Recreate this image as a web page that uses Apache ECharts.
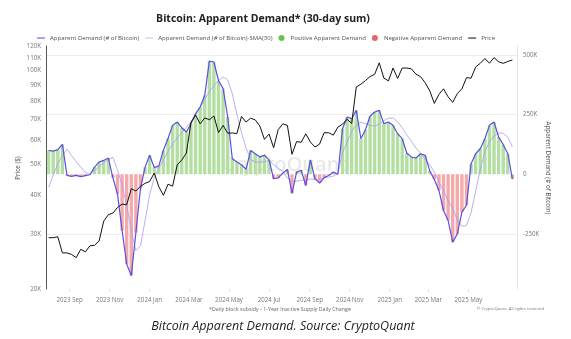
<!DOCTYPE html>
<html><head><meta charset="utf-8">
<script src="https://cdn.jsdelivr.net/npm/echarts@6/dist/echarts.min.js"></script>
<style>html,body{margin:0;padding:0;background:#fff}#c{width:571px;height:339px}</style>
</head><body><div id="c"></div>
<script>
// weekly samples starting on this date (UTC)
const startDate = [2023, 6, 31];
// BTC price, thousand USD
const priceK = [29.2,29.2,29.4,26.1,26.1,25.8,25.2,26.8,26.3,27.5,27.6,28.5,33.0,34.6,35.0,36.5,37.4,37.2,41.9,41.2,42.6,43.6,
  44.2,47.0,42.5,39.9,43.3,42.7,49.9,51.8,54.5,68.3,72.1,67.6,70.6,69.7,71.6,63.4,66.8,63.1,63.2,62.9,71.4,68.5,70.5,69.6,66.5,60.3,
  62.7,56.7,64.8,67.6,66.8,54.0,59.3,59.0,62.8,59.1,57.0,58.2,63.3,63.3,62.2,66.0,67.4,69.9,67.8,88.7,90.5,93.0,95.8,97.4,106.0,94.7,92.8,
  102.0,94.5,102.0,102.0,101.4,97.5,95.7,91.5,86.2,78.6,84.0,87.5,82.5,79.2,84.5,87.5,95.0,94.7,102.8,105.6,109.4,105.7,110.2,106.8,105.6,107.1,108.2];
// Apparent demand (30-day sum), thousand BTC
const demandK = [100,97,103,125,-5,-9,-5,-10,-6,-2,30,51,58,68,-15,-82,-236,-376,-425,-245,-60,30,80,28,35,101,150,205,219,195,177,212,
  254,282,331,475,470,392,359,240,65,51,40,21,100,86,72,80,60,-19,-15,5,20,-80,9,17,-47,60,-19,-37,-14,-5,9,0,191,240,233,268,149,187,
  243,261,268,212,219,205,170,149,89,72,68,86,79,14,-22,-68,-152,-194,-285,-250,-159,-130,44,86,107,149,205,219,156,124,86,-20];
// SMA(30) of apparent demand, thousand BTC
const smaK = [-54,-5,44,78,105,78,53,30,7,0,15,32,47,63,70,18,-45,-130,-236,-320,-300,-195,-85,-15,25,62,95,128,152,175,197,220,248,
  280,314,346,372,393,408,395,338,250,175,110,62,52,50,52,58,40,25,12,-15,-30,-30,-25,-25,-20,-22,-20,-15,-12,-8,5,90,135,180,205,218,
  212,205,202,210,225,235,236,220,195,165,138,110,88,62,40,10,-30,-70,-110,-145,-190,-218,-215,-160,-70,20,95,135,160,173,172,155,115];
const xTickDates = [[2023,8],[2023,10],[2024,0],[2024,2],[2024,4],[2024,6],[2024,8],[2024,10],[2025,0],[2025,2],[2025,4]];
const priceTicks = [20000,30000,40000,50000,60000,70000,80000,90000,100000,110000,120000];
const MONTHS = ['Jan','Feb','Mar','Apr','May','Jun','Jul','Aug','Sep','Oct','Nov','Dec'];

const DAY = 86400000;
const t0 = Date.UTC(startDate[0], startDate[1], startDate[2]);
const dates = priceK.map((_, i) => t0 + i * 7 * DAY);
const xMin = Date.UTC(2023, 6, 27), xMax = Date.UTC(2025, 6, 14);
const xTicks = xTickDates.map(d => Date.UTC(d[0], d[1], 1));
const FONT = 'Open Sans';
const LINE_ICON = 'path://M0,0M0,2.4h10v1.3h-10zM10,6';
const THIN_ICON = 'path://M0,0M0,2.6h10v0.8h-10zM10,6';

const chart = echarts.init(document.getElementById('c'));
chart.setOption({
  animation: false,
  backgroundColor: '#fff',
  title: {
    text: 'Bitcoin: Apparent Demand* (30-day sum)',
    left: 258, top: 9, textAlign: 'center',
    textStyle: {fontFamily: FONT, fontSize: 10.5, fontWeight: 'bold', color: '#222'}
  },
  legend: {
    left: 32, top: 30, itemWidth: 8, itemHeight: 6, itemGap: 6,
    textStyle: {fontFamily: FONT, fontSize: 6.05, color: '#505050'},
    data: [
      {name: 'Apparent Demand (# of Bitcoin)', icon: LINE_ICON},
      {name: 'Apparent Demand (# of Bitcoin)-SMA(30)', icon: THIN_ICON},
      {name: 'Positive Apparent Demand', icon: 'circle', itemStyle: {color: '#6cc24f'}},
      {name: 'Negative Apparent Demand', icon: 'circle', itemStyle: {color: '#e8646b'}},
      {name: 'Price', icon: LINE_ICON}
    ]
  },
  grid: [
    {left: 46, right: 54, top: 46, bottom: 50},
    {left: 46, right: 54, top: 55, bottom: 45.5}
  ],
  xAxis: [
    {type: 'value', gridIndex: 0, min: xMin, max: xMax,
     axisLine: {show: false}, splitLine: {show: false},
     axisTick: {show: true, customValues: xTicks, length: 3, lineStyle: {color: '#e0e0e0'}},
     axisLabel: {customValues: xTicks, fontFamily: FONT, fontSize: 6.2, color: '#777', margin: 8,
       formatter: v => { const d = new Date(v); return d.getUTCFullYear() + ' ' + MONTHS[d.getUTCMonth()]; }}},
    {type: 'value', gridIndex: 1, min: xMin, max: xMax, show: false}
  ],
  yAxis: [
    {type: 'log', gridIndex: 0, logBase: 10, min: 20000, max: 120000, position: 'left',
     axisLine: {show: true, lineStyle: {color: '#555', width: 1}},
     axisTick: {show: false}, splitLine: {show: false},
     axisLabel: {customValues: priceTicks, fontFamily: FONT, fontSize: 6.2, color: '#777', margin: 5,
       formatter: v => Math.round(v / 1000) + 'K'}},
    {type: 'value', gridIndex: 1, position: 'right', min: -500000, max: 500000, interval: 250000,
     axisLine: {show: false}, axisTick: {show: false},
     splitLine: {show: true, lineStyle: {color: ['rgba(0,0,0,0)', '#ececec', 'rgba(0,0,0,0)', '#ececec', '#ececec'], width: 1}},
     axisLabel: {fontFamily: FONT, fontSize: 6.2, color: '#777', margin: 6,
       formatter: v => v === -500000 ? '' : (v === 0 ? '0' : (v / 1000) + 'K')}},
    {type: 'value', gridIndex: 0, position: 'right', min: 0, max: 1,
     axisLine: {show: true, lineStyle: {color: '#e4e4e4'}}, axisTick: {show: false},
     axisLabel: {show: false}, splitLine: {show: false}}
  ],
  series: [
    {name: 'Positive Apparent Demand', type: 'bar', xAxisIndex: 1, yAxisIndex: 1, barWidth: 3.4, barGap: '-100%',
     itemStyle: {color: '#b3dfa2'}, z: 1,
     data: dates.map((d, i) => [d, demandK[i] > 0 ? demandK[i] * 1000 : null])},
    {name: 'Negative Apparent Demand', type: 'bar', xAxisIndex: 1, yAxisIndex: 1, barWidth: 3.4, barGap: '-100%',
     itemStyle: {color: '#f4aaaa'}, z: 1,
     data: dates.map((d, i) => [d, demandK[i] < 0 ? demandK[i] * 1000 : null])},
    {name: 'Apparent Demand (# of Bitcoin)', type: 'line', xAxisIndex: 1, yAxisIndex: 1, symbol: 'none', z: 4,
     lineStyle: {width: 1.2, color: '#5a4ee6'}, itemStyle: {color: '#5a4ee6'},
     data: dates.map((d, i) => [d, demandK[i] * 1000])},
    {name: 'Apparent Demand (# of Bitcoin)-SMA(30)', type: 'line', xAxisIndex: 1, yAxisIndex: 1, symbol: 'none', z: 3,
     lineStyle: {width: 0.8, color: '#a49cf2'}, itemStyle: {color: '#a49cf2'},
     data: dates.map((d, i) => [d, smaK[i] * 1000])},
    {name: 'Price', type: 'line', xAxisIndex: 0, yAxisIndex: 0, symbol: 'none', z: 5,
     lineStyle: {width: 1, color: '#111'}, itemStyle: {color: '#111'},
     data: dates.map((d, i) => [d, priceK[i] * 1000])}
  ],
  graphic: [
    {type: 'text', left: 222, top: 155, z: 0, silent: true,
     style: {text: 'CryptoQuant', fontFamily: FONT, fontSize: 20, fontWeight: 600, fill: 'rgba(0,0,0,0.09)'}},
    {type: 'text', x: 18, y: 168, rotation: Math.PI / 2, silent: true,
     style: {text: 'Price ($)', fontFamily: FONT, fontSize: 6.3, fill: '#555', align: 'center', verticalAlign: 'middle'}},
    {type: 'text', x: 548, y: 168, rotation: -Math.PI / 2, silent: true,
     style: {text: 'Apparent Demand (# of Bitcoin)', fontFamily: FONT, fontSize: 6.3, fill: '#555', align: 'center', verticalAlign: 'middle'}},
    {type: 'text', x: 280, y: 309, silent: true,
     style: {text: '*Daily block subsidy - 1-Year Inactive Supply Daily Change', fontFamily: FONT, fontSize: 5.3, fill: '#666', align: 'center', verticalAlign: 'middle'}},
    {type: 'text', x: 544, y: 309, silent: true,
     style: {text: '\u00a9 CryptoQuant. All rights reserved', fontFamily: FONT, fontSize: 4.2, fill: '#777', align: 'right', verticalAlign: 'middle'}},
    {type: 'text', x: 283, y: 326, silent: true,
     style: {text: 'Bitcoin Apparent Demand. Source: CryptoQuant', fontFamily: FONT, fontSize: 12.5, fontStyle: 'italic', fill: '#222', align: 'center', verticalAlign: 'middle'}}
  ]
});
</script></body></html>
